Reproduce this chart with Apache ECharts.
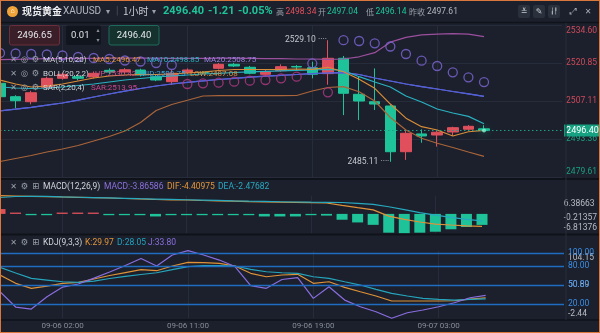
<!DOCTYPE html>
<html>
<head>
<meta charset="utf-8">
<script src="https://cdn.jsdelivr.net/npm/echarts@6/dist/echarts.min.js"></script>
<style>
  html, body { margin: 0; padding: 0; background: #1b202c; }
  #wrap { position: relative; width: 600px; height: 333px; overflow: hidden; }
  #chart { width: 600px; height: 333px; }
  #frame { position: absolute; left: 0; top: 0; width: 600px; height: 333px; box-sizing: border-box;
           border: 1px solid #d9773c; pointer-events: none; }
</style>
</head>
<body>
<div id="wrap"><div id="chart"></div><div id="frame"></div></div>
<script>
// ---- hourly bars, XAUUSD ----
const categories = ['09-05 22:00','09-05 23:00','09-06 00:00','09-06 01:00','09-06 02:00','09-06 03:00','09-06 04:00','09-06 06:00',
  '09-06 07:00','09-06 08:00','09-06 09:00','09-06 10:00','09-06 11:00','09-06 12:00','09-06 13:00','09-06 14:00',
  '09-06 15:00','09-06 16:00','09-06 17:00','09-06 18:00','09-06 19:00','09-06 20:00','09-06 21:00','09-06 22:00',
  '09-06 23:00','09-07 00:00','09-07 01:00','09-07 02:00','09-07 03:00','09-07 04:00','09-07 05:00','09-07 06:00',
  '','','','',''];
const timeTicks = ['09-06 02:00','09-06 11:00','09-06 19:00','09-07 03:00'];

const opens  = [2513.50,2508.66,2506.85,2512.00,2515.32,2515.90,2515.79,2518.20,2517.60,2518.30,2515.90,2514.09,2517.35,2517.40,2518.93,2520.38,
                2519.30,2516.76,2518.07,2519.60,2519.15,2517.00,2522.55,2509.53,2506.85,2505.30,2488.76,2495.20,2494.80,2495.90,2496.90,2497.04];
const closes = [2508.66,2507.21,2510.10,2515.30,2516.76,2515.32,2517.12,2517.60,2518.40,2516.50,2514.70,2517.13,2518.32,2517.30,2520.38,2519.77,
                2517.13,2517.70,2519.52,2519.40,2516.76,2522.55,2509.90,2507.10,2506.00,2488.76,2495.42,2494.45,2495.80,2497.45,2497.95,2496.40];
const lows   = [2507.80,2504.46,2505.90,2511.40,2514.80,2514.60,2515.20,2516.90,2517.00,2516.00,2514.30,2512.90,2516.80,2516.90,2518.50,2519.40,
                2516.80,2516.26,2517.70,2518.30,2515.32,2513.00,2502.00,2500.20,2503.85,2485.11,2485.80,2492.00,2490.60,2494.45,2496.40,2496.14];
const highs  = [2514.30,2509.20,2510.80,2515.90,2517.40,2516.60,2517.80,2518.90,2519.00,2518.80,2516.60,2518.32,2518.90,2517.90,2520.85,2520.90,
                2519.80,2518.32,2520.38,2520.10,2521.32,2529.10,2523.40,2515.90,2518.90,2505.70,2496.60,2496.85,2496.60,2497.80,2498.40,2498.34];

const ma5  = [2514.70,2513.25,2512.17,2512.53,2513.25,2514.34,2515.42,2516.15,2516.51,2516.69,2516.69,2516.87,2517.23,2517.60,2518.14,2518.50,
              2518.50,2518.50,2518.50,2518.68,2518.57,2519.30,2517.70,2514.95,2511.70,2506.00,2500.90,2497.81,2496.61,2494.44,2495.99,2496.47];
const ma10 = [2512.17,2511.81,2511.63,2511.81,2512.17,2512.71,2513.25,2513.98,2514.70,2515.24,2515.79,2516.15,2516.51,2516.87,2517.13,2517.41,
              2517.67,2517.85,2518.03,2518.21,2518.32,2518.57,2518.14,2515.90,2513.98,2512.17,2508.91,2506.74,2504.21,2502.76,2501.53,2498.85];
// MA20 doubles as the Bollinger middle band
const ma20 = [2503.56,2504.14,2504.82,2505.58,2506.38,2507.39,2508.55,2509.64,2510.65,2511.63,2512.53,2513.25,2513.87,2514.41,2514.88,2515.32,
              2515.71,2516.08,2516.40,2516.69,2516.98,2517.23,2517.38,2516.69,2515.42,2514.34,2513.25,2512.28,2511.45,2510.54,2509.71,2508.75];
const bollUp  = [2522.10,2522.20,2522.30,2522.40,2522.40,2522.50,2522.50,2522.60,2522.60,2522.60,2522.60,2522.50,2522.50,2522.50,2522.60,2522.60,
                 2522.50,2522.40,2522.40,2522.30,2522.30,2522.20,2522.30,2523.10,2524.60,2528.40,2530.10,2531.00,2531.30,2531.50,2531.30,2530.42];
const bollLow = [2485.22,2486.30,2487.39,2488.65,2489.74,2491.00,2492.63,2494.26,2496.25,2499.33,2503.67,2505.84,2507.36,2508.91,2509.02,2509.02,
                 2509.02,2509.02,2509.02,2509.09,2510.72,2511.99,2512.28,2510.47,2507.10,2501.13,2496.61,2493.64,2491.83,2490.28,2488.65,2487.08];
const sar = [2524.47,2524.29,2524.11,2523.93,2523.57,2523.02,2522.66,2522.30,2521.76,2521.39,2520.85,2520.13,2513.25,2513.51,2513.72,2514.09,
             2514.45,2514.70,2515.32,2515.90,2520.74,2510.25,2529.10,2528.81,2527.98,2526.82,2524.11,2521.68,2519.77,2517.49,2515.68,2513.95];

const macdHist = [1.70,0.30,-0.20,-0.20,0.20,0.20,0.20,-0.20,-0.20,-0.20,-0.90,-0.40,-0.30,-0.30,-0.30,-0.30,
                  -0.30,-0.90,-0.90,-0.90,-0.40,-0.60,-2.05,-3.00,-3.85,-6.60,-6.81376,-6.60,-6.26,-5.40,-4.60,-3.86586];
const dif = [6.38663,6.28,6.18,6.04,5.93,5.83,5.69,5.58,5.41,5.23,5.06,4.95,4.88,4.71,4.60,4.46,
             4.32,4.21,4.11,4.04,3.97,3.83,3.00,2.20,1.42,-0.80,-1.91,-2.85,-3.58,-3.90,-4.20,-4.40975];
const dea = [5.75,6.10,6.20,6.12,5.95,5.84,5.72,5.62,5.48,5.33,5.20,5.08,4.96,4.84,4.72,4.59,
             4.47,4.37,4.27,4.18,4.10,4.05,4.00,3.70,3.35,2.50,1.50,0.45,-0.45,-1.20,-1.90,-2.47682];

const kdjK = [65.8,52.7,44.8,48.4,52.7,54.3,59.5,65.0,69.7,74.4,72.6,80.0,85.8,85.5,84.2,80.0,
              68.5,63.1,65.8,66.9,52.7,55.2,46.4,39.4,32.7,24.8,24.8,24.8,24.8,25.2,27.9,29.97];
const kdjD = [77.9,68.9,60.6,57.9,55.2,54.3,56.3,60.3,63.7,66.6,69.4,74.4,78.9,80.8,80.8,80.0,
              74.8,71.0,69.4,68.5,63.1,60.6,55.2,50.0,43.2,36.9,32.7,29.0,27.4,26.3,27.4,28.05];
const kdjJ = [39.4,15.3,12.1,31.5,46.8,51.6,61.0,70.5,80.8,91.8,80.0,97.3,104.15,97.3,89.4,79.2,
              49.2,44.8,58.7,61.8,29.0,47.3,26.3,15.8,7.9,-2.44,6.3,10.6,15.8,22.1,30.0,33.80];
const kdjLevels = [100, 80, 50, 20];

// axis tick labels (bottom to top)
const priceTicks = ['2479.61','2493.36','2507.11','2520.85','2534.60'];
const macdTicks  = ['-6.81376','-0.21357','6.38663'];
const kdjTicks   = ['-2.44','50.89','104.15'];

const prevClose = 2497.61;
const askPrice = '2496.65';
const lotSize = '0.01';

// ---- styling ----
const FONT = "Roboto, 'Noto Sans CJK SC', sans-serif";
const CJK = "'Noto Sans CJK SC', Roboto, sans-serif";
const RED = '#e0505c', GREEN = '#1fc39a';
const GRID = '#262c39';
const C = { ma5:'#d98c38', ma10:'#2ab1c1', ma20:'#7b60d2', mid:'#4d62d8', up:'#9c4f9e', low:'#a9643a',
            sarHi:'#7f66d8', sarLo:'#b43a84', dif:'#df9238', dea:'#27a9c0', k:'#df9238', d:'#25a5bd', j:'#8a6de0' };

const n = closes.length, last = n - 1;
const candleData = opens.map((o, i) => [o, closes[i], lows[i], highs[i]]);
const sarAbove = sar.map((v, i) => v > closes[i] ? v : '-');
const sarBelow = sar.map((v, i) => v <= closes[i] ? v : '-');
const maxHigh = Math.max(...highs), iHigh = highs.indexOf(maxHigh);
const minLow = Math.min(...lows), iLow = lows.indexOf(minLow);

const pMin = +priceTicks[0], pMax = +priceTicks[priceTicks.length - 1];
const mMin = +macdTicks[0], mMax = +macdTicks[macdTicks.length - 1];
const kMin = +kdjTicks[0], kMax = +kdjTicks[kdjTicks.length - 1];

// y-axis labels: per-tick colour and a small vertical nudge for the edge ticks
function axisLabels(min, max, texts, colorOf, shifts) {
  const step = (max - min) / (texts.length - 1);
  const rich = {};
  texts.forEach((t, k) => {
    const s = shifts[k];
    rich['t' + k] = { color: colorOf(k), fontSize: 8.5, fontFamily: FONT,
      padding: s >= 0 ? [2 * s, 0, 0, 0] : [0, 0, -2 * s, 0] };
  });
  return {
    show: true, margin: 4, fontSize: 8.5, fontFamily: FONT,
    formatter: v => { const k = Math.round((v - min) / step); return '{t' + k + '|' + texts[k] + '}'; },
    rich
  };
}

const tickFilter = (idx, val) => timeTicks.indexOf(val) >= 0;
function xAxis(gridIndex, showLabel) {
  return {
    type: 'category', gridIndex, data: categories, boundaryGap: false,
    axisLine: { show: false }, axisTick: { show: false },
    axisLabel: { show: showLabel, interval: tickFilter, color: '#878c96', fontSize: 8, fontFamily: FONT, margin: 4 },
    splitLine: { show: true, interval: tickFilter, lineStyle: { color: GRID, width: 1 } }
  };
}

function line(name, data, color, xi, extra) {
  return Object.assign({ type: 'line', name, data, xAxisIndex: xi, yAxisIndex: xi, showSymbol: false, symbol: 'none',
    smooth: false, lineStyle: { color, width: 1.2 }, itemStyle: { color }, silent: true, z: 3 }, extra || {});
}

// ---- header / legends ----
function txt(x, y, text, fill, size, weight, font, align) {
  return { type: 'text', x, y, silent: true, z: 100,
    style: { text, fill, font: (weight || 'normal') + ' ' + size + 'px ' + (font || FONT),
             verticalAlign: 'middle', align: align || 'left' } };
}
const f2 = v => v.toFixed(2);
const chg = closes[last] - prevClose;
const pct = chg / prevClose * 100;
const fmtSigned = (v, d) => (v > 0 ? '+' : '') + v.toFixed(d);

const graphics = [
  // pane separators
  { type: 'line', silent: true, z: 90, shape: { x1: 0, y1: 22.5, x2: 600, y2: 22.5 }, style: { stroke: '#10131a', lineWidth: 1.5 } },
  { type: 'line', silent: true, z: 90, shape: { x1: 0, y1: 179, x2: 600, y2: 179 }, style: { stroke: '#0f1218', lineWidth: 2 } },
  { type: 'line', silent: true, z: 90, shape: { x1: 0, y1: 234.5, x2: 600, y2: 234.5 }, style: { stroke: '#0f1218', lineWidth: 2 } },
  { type: 'line', silent: true, z: 90, shape: { x1: 0, y1: 320, x2: 600, y2: 320 }, style: { stroke: '#0f1218', lineWidth: 1.5 } },
  { type: 'line', silent: true, z: 90, shape: { x1: 566, y1: 23, x2: 566, y2: 320 }, style: { stroke: '#262c39', lineWidth: 1 } },

  // title row
  { type: 'circle', silent: true, z: 100, shape: { cx: 12.5, cy: 11.5, r: 5.5 }, style: { fill: '#efa43a' } },
  txt(12.5, 11.5, '⌂', '#ffffff', 7, 'bold', FONT, 'center'),
  txt(22, 11.5, '现货黄金', '#f1f2f4', 10, 'bold', CJK),
  txt(63, 11.5, 'XAUUSD', '#b3b7bf', 10),
  txt(106, 11.5, '▾', '#9aa0aa', 8),
  txt(116, 11.5, '|', '#4a505c', 10),
  txt(123, 11.5, '1小时', '#c7cad1', 10, 'normal', CJK),
  txt(152, 11.5, '▾', '#9aa0aa', 8),
  txt(163, 11.5, f2(closes[last]), GREEN, 11, 'bold'),
  txt(208, 11.5, fmtSigned(chg, 2), chg < 0 ? GREEN : RED, 11, 'bold'),
  txt(238, 11.5, fmtSigned(pct, 2) + '%', chg < 0 ? GREEN : RED, 11, 'bold'),
  txt(276, 11.5, '高', '#9aa0aa', 8, 'normal', CJK),
  txt(285.5, 11.5, f2(highs[last]), RED, 8.5),
  txt(318, 11.5, '开', '#9aa0aa', 8, 'normal', CJK),
  txt(327, 11.5, f2(opens[last]), GREEN, 8.5),
  txt(366, 11.5, '低', '#9aa0aa', 8, 'normal', CJK),
  txt(375.5, 11.5, f2(lows[last]), GREEN, 8.5),
  txt(409, 11.5, '昨收', '#9aa0aa', 8, 'normal', CJK),
  txt(427, 11.5, f2(prevClose), '#b3b7bf', 8.5),

  // toolbar buttons
  { type: 'rect', silent: true, z: 100, shape: { x: 518, y: 5, width: 12, height: 13, r: 2 }, style: { fill: '#2a303c' } },
  { type: 'rect', silent: true, z: 100, shape: { x: 533, y: 5, width: 12, height: 13, r: 2 }, style: { fill: '#2a303c' } },
  { type: 'rect', silent: true, z: 100, shape: { x: 548, y: 5, width: 12, height: 13, r: 2 }, style: { fill: '#2a303c' } },
  txt(524, 11.5, '≚', '#c9ccd3', 8, 'normal', 'DejaVu Sans', 'center'),
  txt(539, 11.5, '✎', '#c9ccd3', 8, 'normal', 'DejaVu Sans', 'center'),
  txt(554, 11.5, '╽╿', '#c9ccd3', 6, 'normal', 'DejaVu Sans', 'center'),
  txt(573, 11.5, '⤢', '#a6abb4', 9, 'normal', 'DejaVu Sans', 'center'),
  txt(588, 11.5, '✕', '#a6abb4', 8, 'normal', 'DejaVu Sans', 'center'),

  // order boxes
  { type: 'rect', silent: true, z: 100, shape: { x: 9.5, y: 25.5, width: 50, height: 19.5, r: 2 }, style: { fill: '#3a1f28', stroke: '#6d2f3b', lineWidth: 1 } },
  txt(34.5, 35.5, askPrice, '#e3e5e9', 9.5, 'normal', FONT, 'center'),
  { type: 'rect', silent: true, z: 100, shape: { x: 66, y: 25.5, width: 35, height: 19.5, r: 2 }, style: { fill: '#11151d' } },
  txt(71, 35.5, lotSize, '#e3e5e9', 9.5),
  txt(98, 30.5, '▴', '#8a8f99', 6, 'normal', 'DejaVu Sans', 'center'),
  txt(98, 40.5, '▾', '#8a8f99', 6, 'normal', 'DejaVu Sans', 'center'),
  { type: 'rect', silent: true, z: 100, shape: { x: 109, y: 25.5, width: 50, height: 19.5, r: 2 }, style: { fill: '#15322f', stroke: '#1e6a5c', lineWidth: 1 } },
  txt(134, 35.5, f2(closes[last]), '#e3e5e9', 9.5, 'normal', FONT, 'center'),
];

// indicator legend rows
function legendIcons(y, third) {
  return [txt(13.5, y, '✕', '#9aa0aa', 8, 'normal', 'DejaVu Sans', 'center'),
          txt(24.5, y, third ? '⚙' : '◎', '#9aa0aa', 8.5, 'normal', 'DejaVu Sans', 'center'),
          txt(35.5, y, third ? '⊞' : '⚙', '#9aa0aa', 8.5, 'normal', 'DejaVu Sans', 'center')];
}
graphics.push(
  ...legendIcons(60), txt(43, 60, 'MA(5,10,20)', '#d0d3d9', 8),
  txt(93, 60, 'MA5:' + f2(ma5[last]), '#e3953a', 8),
  txt(147, 60, 'MA10:' + f2(ma10[last]), '#2bb5c4', 8),
  txt(204, 60, 'MA20:' + f2(ma20[last]), '#9a80e0', 8),
  ...legendIcons(74), txt(43, 74, 'BOLL(20,2,2)', '#d0d3d9', 8),
  txt(95, 74, 'UP:' + f2(bollUp[last]), '#d2508a', 8),
  txt(140, 74, 'MID:' + f2(ma20[last]), '#3ea3dc', 8),
  txt(190, 74, 'LOW:' + f2(bollLow[last]), '#d98d3f', 8),
  ...legendIcons(87.5), txt(43, 87.5, 'SAR(2,20,4)', '#d0d3d9', 8),
  txt(91, 87.5, 'SAR:' + f2(sar[last]), '#c9468e', 8),
  ...legendIcons(187, true), txt(43, 187, 'MACD(12,26,9)', '#d0d3d9', 8.5),
  txt(104, 187, 'MACD:' + macdHist[last].toFixed(5), '#8d70dc', 8.5),
  txt(167, 187, 'DIF:' + dif[last].toFixed(5), '#e3953a', 8.5),
  txt(218, 187, 'DEA:' + dea[last].toFixed(5), '#2aa9c2', 8.5),
  ...legendIcons(243, true), txt(43, 243, 'KDJ(9,3,3)', '#d0d3d9', 8.5),
  txt(85, 243, 'K:' + f2(kdjK[last]), '#e3953a', 8.5),
  txt(117, 243, 'D:' + f2(kdjD[last]), '#23a3bf', 8.5),
  txt(148, 243, 'J:' + f2(kdjJ[last]), '#8b6fe0', 8.5)
);

// ---- chart ----
const chart = echarts.init(document.getElementById('chart'), null, { renderer: 'canvas', width: 600, height: 333 });
const GRID_W = 564;
chart.setOption({
  animation: false,
  backgroundColor: '#1b202c',
  grid: [
    { left: 0, top: 25, width: GRID_W, height: 152 },
    { left: 0, top: 195.7, width: GRID_W, height: 37.6 },
    { left: 0, top: 250.7, width: GRID_W, height: 67.6 }
  ],
  xAxis: [xAxis(0, false), xAxis(1, false), xAxis(2, true)],
  yAxis: [
    { type: 'value', gridIndex: 0, position: 'right', min: pMin, max: pMax, interval: (pMax - pMin) / 4, scale: true,
      axisLine: { show: false }, axisTick: { show: false },
      splitLine: { show: true, lineStyle: { color: GRID, width: 1 } },
      axisLabel: axisLabels(pMin, pMax, priceTicks, k => (+priceTicks[k] > closes[last] ? '#d04a5a' : '#1d9f80'), [-5.3, 0, 0, 0, 5.7]) },
    { type: 'value', gridIndex: 1, position: 'right', min: mMin, max: mMax, interval: (mMax - mMin) / 2, scale: true,
      axisLine: { show: false }, axisTick: { show: false }, splitLine: { show: false },
      axisLabel: axisLabels(mMin, mMax, macdTicks, () => '#b8bcc4', [-5, 3.8, 8.6]) },
    { type: 'value', gridIndex: 2, position: 'right', min: kMin, max: kMax, interval: (kMax - kMin) / 2, scale: true,
      axisLine: { show: false }, axisTick: { show: false }, splitLine: { show: false },
      axisLabel: axisLabels(kMin, kMax, kdjTicks, () => '#b8bcc4', [-4, 0, 7.6]) }
  ],
  graphic: graphics,
  series: [
    { type: 'candlestick', name: 'XAUUSD', data: candleData, xAxisIndex: 0, yAxisIndex: 0, barWidth: 11, z: 2,
      itemStyle: { color: RED, color0: GREEN, borderColor: RED, borderColor0: GREEN, borderWidth: 1 },
      markLine: { silent: true, symbol: 'none', animation: false,
        lineStyle: { type: [1.5, 2.5], color: '#1f9f84', width: 1 },
        label: { position: 'end', distance: 2, formatter: p => f2(p.value), color: '#ffffff', fontSize: 9, fontFamily: FONT,
                 backgroundColor: '#16a282', padding: [2, 2, 1, 2] },
        data: [{ yAxis: closes[last] }] },
      markPoint: { silent: true, symbol: 'circle', symbolSize: 0, animation: false,
        label: { show: true, position: 'left', distance: 1, color: '#c3c6cc', fontSize: 8.5, fontFamily: FONT,
                 formatter: p => f2(p.value) + ' ····' },
        data: [{ coord: [iHigh, maxHigh], value: maxHigh }, { coord: [iLow, minLow], value: minLow }] } },
    line('BOLL UP', bollUp, C.up, 0),
    line('BOLL LOW', bollLow, C.low, 0),
    line('MA20', ma20, C.ma20, 0),
    line('BOLL MID', ma20, C.mid, 0),
    line('MA10', ma10, C.ma10, 0),
    line('MA5', ma5, C.ma5, 0),
    { type: 'scatter', name: 'SAR', data: sarAbove, xAxisIndex: 0, yAxisIndex: 0, symbol: 'circle', symbolSize: 9, silent: true, z: 4,
      itemStyle: { color: 'rgba(0,0,0,0)', borderColor: C.sarHi, borderWidth: 1.3 } },
    { type: 'scatter', name: 'SAR', data: sarBelow, xAxisIndex: 0, yAxisIndex: 0, symbol: 'circle', symbolSize: 9, silent: true, z: 4,
      itemStyle: { color: 'rgba(0,0,0,0)', borderColor: C.sarLo, borderWidth: 1.3 } },
    { type: 'scatter', name: 'last', data: closes.map((v, i) => i === last ? v : '-'), xAxisIndex: 0, yAxisIndex: 0,
      symbolSize: 4, silent: true, z: 5,
      itemStyle: { color: '#7ff5d6', shadowBlur: 8, shadowColor: '#1fe0b0' } },

    { type: 'bar', name: 'MACD', data: macdHist, xAxisIndex: 1, yAxisIndex: 1, barWidth: 11, barMinHeight: 1.3, silent: true,
      itemStyle: { color: p => (p.value >= 0 ? RED : GREEN) } },
    line('DIF', dif, C.dif, 1),
    line('DEA', dea, C.dea, 1),

    line('K', kdjK, C.k, 2, {
      markLine: { silent: true, symbol: 'none', animation: false,
        lineStyle: { type: 'solid', color: '#1f6cc0', width: 1.4 },
        label: { position: 'end', distance: 4, formatter: p => f2(p.value), color: '#3b8de6', fontSize: 8.5, fontFamily: FONT },
        data: kdjLevels.map(v => ({ yAxis: v })) } }),
    line('D', kdjD, C.d, 2),
    line('J', kdjJ, C.j, 2)
  ]
});
</script>
</body>
</html>
